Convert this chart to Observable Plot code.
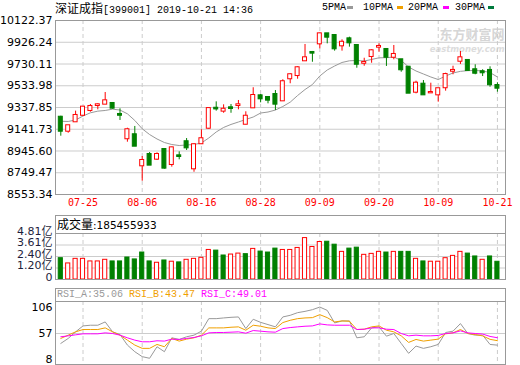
<!DOCTYPE html>
<html><head><meta charset="utf-8">
<script src="https://cdn.jsdelivr.net/npm/d3@7"></script>
<script src="https://cdn.jsdelivr.net/npm/@observablehq/plot@0.6"></script>
<style>
body{margin:0;background:#fff;}
#wrap{position:relative;width:520px;height:365px;overflow:hidden;background:#fff;font-family:"Liberation Mono","Noto Sans CJK SC",monospace;font-size:10px;color:#000;}
.abs{position:absolute;white-space:pre;}
.box{position:absolute;border:1px solid #999;box-sizing:border-box;}
.cjk{font-family:"Noto Sans CJK SC",sans-serif;font-size:12px;}
.sw{position:absolute;width:6px;height:3px;}
svg{position:absolute;left:0;}
</style></head><body><div id="wrap"></div>
<script>
// ---- data ----
const dates = ["07-22","07-23","07-24","07-25","07-26","07-29","07-30","07-31","08-01","08-02",
"08-05","08-06","08-07","08-08","08-09","08-12","08-13","08-14","08-15","08-16",
"08-19","08-20","08-21","08-22","08-23","08-26","08-27","08-28","08-29","08-30",
"09-02","09-03","09-04","09-05","09-06","09-09","09-10","09-11","09-12","09-16",
"09-17","09-18","09-19","09-20","09-23","09-24","09-25","09-26","09-27","09-30",
"10-08","10-09","10-10","10-11","10-14","10-15","10-16","10-17","10-18","10-21"];
const open = [9250,9124,9209,9268,9311,9356,9368,9374,9275,9056,
9092,8812,8914,8872,8959,8824,8902,9029,8785,9011,
9151,9331,9305,9335,9356,9187,9335,9443,9428,9455,
9398,9597,9626,9759,9834,9912,10002,9987,9894,9957,
9897,9737,9798,9882,9861,9791,9768,9701,9476,9548,
9470,9452,9516,9665,9755,9762,9678,9660,9672,9536];
const high = [9259,9173,9305,9347,9365,9371,9473,9374,9326,9151,
9167,8896,8932,8929,8968,8980,8938,9058,9011,9137,
9328,9389,9362,9365,9401,9299,9516,9455,9437,9491,
9588,9642,9705,9906,9843,10008,10002,9996,9948,9972,
9897,9782,9858,9912,9861,9897,9768,9708,9575,9581,
9557,9507,9647,9710,9843,9762,9723,9678,9705,9561];
const low = [9079,9106,9209,9257,9296,9317,9367,9323,9221,9025,
8989,8673,8817,8860,8782,8800,8866,8950,8754,9004,
9142,9305,9286,9286,9317,9182,9335,9380,9371,9311,
9396,9552,9593,9759,9746,9867,9912,9846,9846,9882,
9692,9710,9737,9837,9708,9768,9656,9467,9461,9452,
9467,9386,9485,9633,9726,9672,9633,9617,9521,9476];
const close = [9124,9173,9266,9341,9347,9362,9398,9332,9268,9137,
8989,8860,8818,8914,8791,8974,8896,8974,9002,9056,
9328,9325,9322,9329,9362,9259,9446,9416,9404,9368,
9570,9633,9696,9786,9828,10002,9972,9867,9926,9921,
9728,9744,9849,9888,9791,9816,9678,9467,9557,9452,
9473,9507,9635,9672,9786,9672,9647,9651,9543,9512];
const prevClose = 9236; // close before the first day shown
const ma = [9214,9212,9225,9261,9290,9305,9311,9323,9315,9281,
9221,9146,9094,9054,9022,9004,8995,9000,9004,9018,
9063,9117,9158,9185,9207,9230,9252,9288,9297,9315,
9347,9386,9446,9500,9545,9622,9676,9712,9744,9759,
9762,9757,9771,9786,9787,9793,9762,9703,9667,9640,
9613,9590,9622,9649,9664,9670,9672,9667,9653,9613];
const vol = [2.23,1.68,2.16,2.16,1.89,1.89,2.06,1.89,1.89,2.30,
2.10,2.82,1.89,1.75,1.99,1.86,1.79,2.06,2.16,2.27,
3.09,3.02,2.51,2.61,2.71,2.65,3.20,2.92,2.82,3.23,
3.09,3.09,3.30,4.33,3.40,3.92,3.95,3.64,2.89,3.23,
3.33,2.58,2.68,2.89,2.82,2.89,2.89,2.89,2.16,1.89,
1.86,1.86,2.23,2.47,2.89,2.71,2.41,2.06,2.41,1.85455933]; // 亿
const rsiA = [38.3,47.7,60.1,71.3,72.6,72.6,78.8,60.1,55.1,35.2,
22.7,13.4,10.3,32.1,22.7,48.9,45.8,50.8,53.9,61.4,
85,85,86.3,87.5,88.2,66.3,83.8,78,73.8,69.5,
88.2,91.3,96.3,98.7,101.9,106.8,100.6,76.9,80.7,80.7,
48.9,50.8,67.6,69.5,52,57,38.3,19.6,33.3,29,
32.1,36.4,58.9,61.4,75.7,57,53.9,53.9,36.4,35.06];
const rsiB = [47.7,53.9,60.1,64.5,64.5,64.5,67.6,60.1,53.9,44.5,
35.2,29,29,36.4,32.1,47.7,42.7,46.4,48.9,53.9,
67.6,67.6,67.6,68.8,69.5,63.2,72.6,70.7,67.6,66.3,
77.6,81.9,85,86.3,86.9,92.5,86.9,78.8,80.7,80.1,
64.5,65.1,69.5,71.3,63.2,60.1,52.6,40.2,45.8,42.7,
44.5,46.4,56.4,58.2,64.5,57,55.1,52.5,46,43.47];
const rsiC = [50.8,52.6,54.5,56.4,56.4,56.4,58.2,57,53.9,48.9,
44.5,41.4,41.4,43.3,42.7,46.4,45.8,47.7,49.5,52.6,
58.2,58.9,58.9,59.5,60.1,57.6,62.6,61.4,60.1,59.5,
66.3,68.2,69.5,70.7,71.3,75.1,73.2,72.6,72.6,72.6,
64.5,65.1,67.6,67.6,65.1,64.5,57,52.6,53.9,52.6,
52.6,53.3,57,58.2,62,58.2,57,56,51.5,49.01];
const yTicks = [8553.34,8749.47,8945.60,9141.73,9337.85,9533.98,9730.11,9926.24,10122.37];
const volTicks = [0,1.2025,2.405,3.6075,4.81];
const rsiTicks = [106,57,8];
const xTickDates = ["07-25","08-06","08-16","08-28","09-09","09-20","10-09","10-21"];
const legendNames = ["5PMA","10PMA","20PMA","30PMA"];
const legendColors = ["#999999","#f0a000","#ff00ff","#007a3d"];

// ---- build ----
const RED = "#ff0000", GREEN = "#008000";
const rows = dates.map((d,i)=>({i, d, o:open[i], h:high[i], l:low[i], c:close[i], ma:ma[i], v:vol[i],
  a:rsiA[i], b:rsiB[i], cc:rsiC[i], up: close[i] >= open[i], vup: close[i] >= (i ? close[i-1] : prevClose)}));
const xIdx = xTickDates.map(d => dates.indexOf(d));
const common = {
  width: 520, marginLeft: 55, marginRight: 15,
  x: {type: "linear", domain: [-0.716, 60.09], axis: null},
  style: {background: "transparent", fontFamily: "DejaVu Sans, Noto Sans CJK SC, sans-serif", fontSize: "11px", color: "#000", overflow: "visible"}
};
const wrap = document.getElementById("wrap");

const main = Plot.plot({
  ...common, height: 215, marginTop: 20, marginBottom: 21,
  y: {domain: [8553.34, 10122.37]},
  marks: [
    Plot.text(["东方财富网"], {text: d => d, frameAnchor: "top-right", dx: -1, dy: 9, fill: "#d6d6d6", fontSize: 13, fontWeight: "bold", fontFamily: "Noto Sans CJK SC", textAnchor: "end"}),
    Plot.text(["eastmoney.com"], {text: d => d, frameAnchor: "top-right", dx: -1, dy: 25, fill: "#dcdcdc", fontSize: 8.5, fontWeight: "bold", fontStyle: "italic", textAnchor: "end"}),
    Plot.ruleY(yTicks, {stroke: "#cccccc"}),
    Plot.ruleX(xIdx, {stroke: "#cccccc", strokeDasharray: "4,3"}),
    Plot.line(rows, {x: "i", y: "ma", stroke: "#999999", strokeWidth: 1}),
    Plot.ruleX(rows.filter(r => r.up), {x: "i", y1: "l", y2: "h", stroke: RED}),
    Plot.ruleX(rows.filter(r => !r.up), {x: "i", y1: "l", y2: "h", stroke: GREEN}),
    Plot.rect(rows.filter(r => r.up), {x1: r => r.i - 0.27, x2: r => r.i + 0.27, y1: "o", y2: "c", fill: "#fff", stroke: RED, insetTop: -0.5, insetBottom: -0.5}),
    Plot.rect(rows.filter(r => !r.up), {x1: r => r.i - 0.27, x2: r => r.i + 0.27, y1: "o", y2: "c", fill: GREEN, stroke: GREEN, insetTop: -0.5, insetBottom: -0.5}),
    Plot.axisY(yTicks, {tickFormat: d => d.toFixed(2), tickSize: 0, tickPadding: 3, fontSize: 11, label: null}),
    Plot.text(xIdx, {x: d => d, text: d => dates[d], frameAnchor: "bottom", dy: 11, fill: RED, fontFamily: "DejaVu Sans Mono", fontSize: 10}),
    Plot.frame({stroke: "#999999"})
  ]
});
main.style.top = "0px";
wrap.appendChild(main);

const volPlot = Plot.plot({
  ...common, height: 65, marginTop: 18, marginBottom: 1,
  y: {domain: [0, 4.81]},
  marks: [
    Plot.ruleY(volTicks, {stroke: "#cccccc"}),
    Plot.ruleX(xIdx, {stroke: "#cccccc", strokeDasharray: "4,3"}),
    Plot.rect(rows.filter(r => r.vup), {x1: r => r.i - 0.28, x2: r => r.i + 0.28, y1: 0, y2: "v", fill: "#fff", stroke: RED}),
    Plot.rect(rows.filter(r => !r.vup), {x1: r => r.i - 0.28, x2: r => r.i + 0.28, y1: 0, y2: "v", fill: GREEN, stroke: GREEN}),
    Plot.axisY(volTicks, {tickFormat: d => d === 0 ? "0" : d.toFixed(2) + "亿", tickSize: 0, tickPadding: 3, dy: -2.5, fontSize: 11, fill: "#1e1e3c", label: null}),
    Plot.frame({stroke: "#999999"})
  ]
});
volPlot.style.top = "215px";
wrap.appendChild(volPlot);

const rsiPlot = Plot.plot({
  ...common, height: 77, marginTop: 13, marginBottom: 1,
  y: {domain: [-1.4, 117.3]},
  marks: [
    Plot.ruleY([57], {stroke: "#cccccc"}),
    Plot.ruleX(xIdx, {stroke: "#cccccc", strokeDasharray: "4,3"}),
    Plot.line(rows, {x: "i", y: "a", stroke: "#999999", strokeWidth: 1}),
    Plot.line(rows, {x: "i", y: "b", stroke: "#f0a000", strokeWidth: 1}),
    Plot.line(rows, {x: "i", y: "cc", stroke: "#ff00ff", strokeWidth: 1}),
    Plot.axisY(rsiTicks, {tickSize: 0, tickPadding: 3, fontSize: 11, label: null}),
    Plot.frame({stroke: "#999999"})
  ]
});
rsiPlot.style.top = "288px";
wrap.appendChild(rsiPlot);

// ---- html text / header boxes ----
function el(html, cls, style) {
  const d = document.createElement("div");
  d.className = cls; d.innerHTML = html; Object.assign(d.style, style); wrap.appendChild(d); return d;
}
el('<span class="cjk">深证成指</span>[399001] 2019-10-21 14:36', "abs", {left: "55px", top: "0px", lineHeight: "16px"});
const legX = [322, 363, 408, 455];
const swX = [347, 397, 443, 488];
legendNames.forEach((n, k) => {
  el(n, "abs", {left: legX[k] + "px", top: "0px", lineHeight: "16px"});
  el("", "sw", {left: swX[k] + "px", top: "6px", background: legendColors[k]});
});
el("", "box", {left: "55px", top: "215px", width: "451px", height: "19px"});
el('<span class="cjk">成交量</span><span style="font-family:DejaVu Sans;font-size:10.5px">:' + Math.round(vol[vol.length - 1] * 1e8) + '</span>', "abs", {left: "57px", top: "215px", lineHeight: "18px"});
el("", "box", {left: "55px", top: "288px", width: "451px", height: "14px"});
const last = rows[rows.length - 1];
el('<span style="color:#999">RSI_A:' + last.a.toFixed(2) + '</span> <span style="color:#f0a000">RSI_B:' + last.b.toFixed(2) + '</span> <span style="color:#ff00ff">RSI_C:' + last.cc.toFixed(2) + '</span>', "abs", {left: "57px", top: "288px", lineHeight: "14px"});
</script></body></html>
